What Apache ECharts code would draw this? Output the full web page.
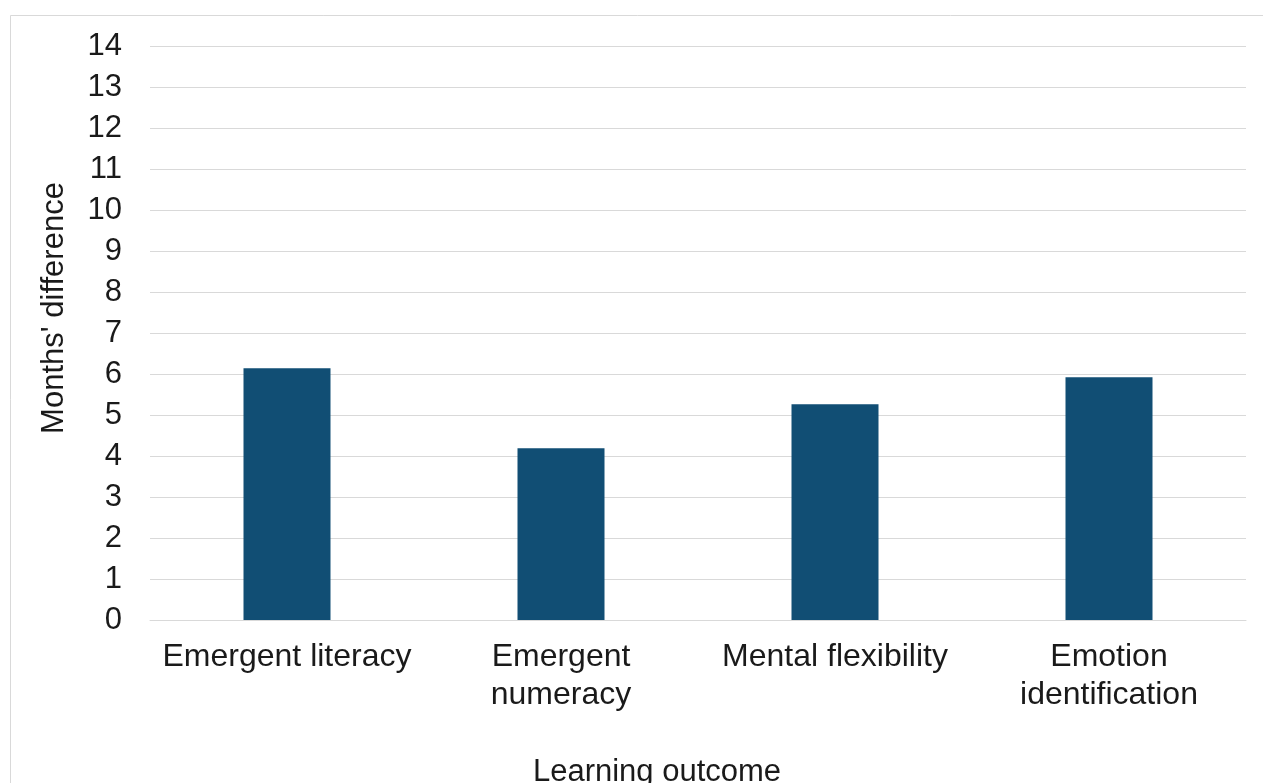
<!DOCTYPE html>
<html>
<head>
<meta charset="utf-8">
<script src="https://cdn.jsdelivr.net/npm/echarts@6/dist/echarts.min.js"></script>
<style>
  html, body { margin: 0; padding: 0; background: #ffffff; }
  #chart { width: 1263px; height: 783px; }
</style>
</head>
<body>
<div id="chart"></div>
<script>
// Learning outcomes and the estimated months' difference for each
const categories = ['Emergent literacy', 'Emergent\nnumeracy', 'Mental flexibility', 'Emotion\nidentification'];
const monthsDifference = [6.14, 4.19, 5.26, 5.92];
const yTicks = { min: 0, max: 14, interval: 1 };
const yTitle = "Months' difference";
const xTitle = 'Learning outcome';

const FONT = "'Liberation Sans', Arial, sans-serif";
const TEXT = '#1a1a1a';
const GRID_LINE = '#d9d9d9';

const chart = echarts.init(document.getElementById('chart'), null, { renderer: 'canvas' });

chart.setOption({
  backgroundColor: '#ffffff',
  animation: false,
  grid: { left: 150, right: 17, top: 46, bottom: 163, containLabel: false },
  xAxis: {
    type: 'category',
    data: categories,
    axisLine: { show: true, lineStyle: { color: GRID_LINE, width: 1 } },
    axisTick: { show: false },
    axisLabel: {
      margin: 18,
      color: TEXT,
      fontFamily: FONT,
      fontSize: 32,
      lineHeight: 38,
      interval: 0
    }
  },
  yAxis: {
    type: 'value',
    min: yTicks.min,
    max: yTicks.max,
    interval: yTicks.interval,
    axisLine: { show: false },
    axisTick: { show: false },
    splitLine: { show: true, lineStyle: { color: GRID_LINE, width: 1 } },
    axisLabel: {
      margin: 28,
      color: TEXT,
      fontFamily: FONT,
      fontSize: 31
    }
  },
  series: [{
    type: 'bar',
    data: monthsDifference,
    barWidth: 87,
    itemStyle: { color: '#114e74' }
  }],
  graphic: [
    {
      // outer chart frame, running past the right and bottom edges
      type: 'rect',
      silent: true,
      z: -1,
      shape: { x: 10.5, y: 15.5, width: 1400, height: 900 },
      style: { fill: 'none', stroke: '#d9d9d9', lineWidth: 1 }
    },
    {
      type: 'text',
      x: 54,
      y: 308,
      rotation: Math.PI / 2,
      style: {
        text: yTitle,
        fontFamily: FONT,
        fontSize: 31,
        fill: TEXT,
        textAlign: 'center',
        textVerticalAlign: 'middle'
      }
    },
    {
      type: 'text',
      x: 657,
      y: 772,
      style: {
        text: xTitle,
        fontFamily: FONT,
        fontSize: 31,
        fill: TEXT,
        textAlign: 'center',
        textVerticalAlign: 'middle'
      }
    }
  ]
});
</script>
</body>
</html>
